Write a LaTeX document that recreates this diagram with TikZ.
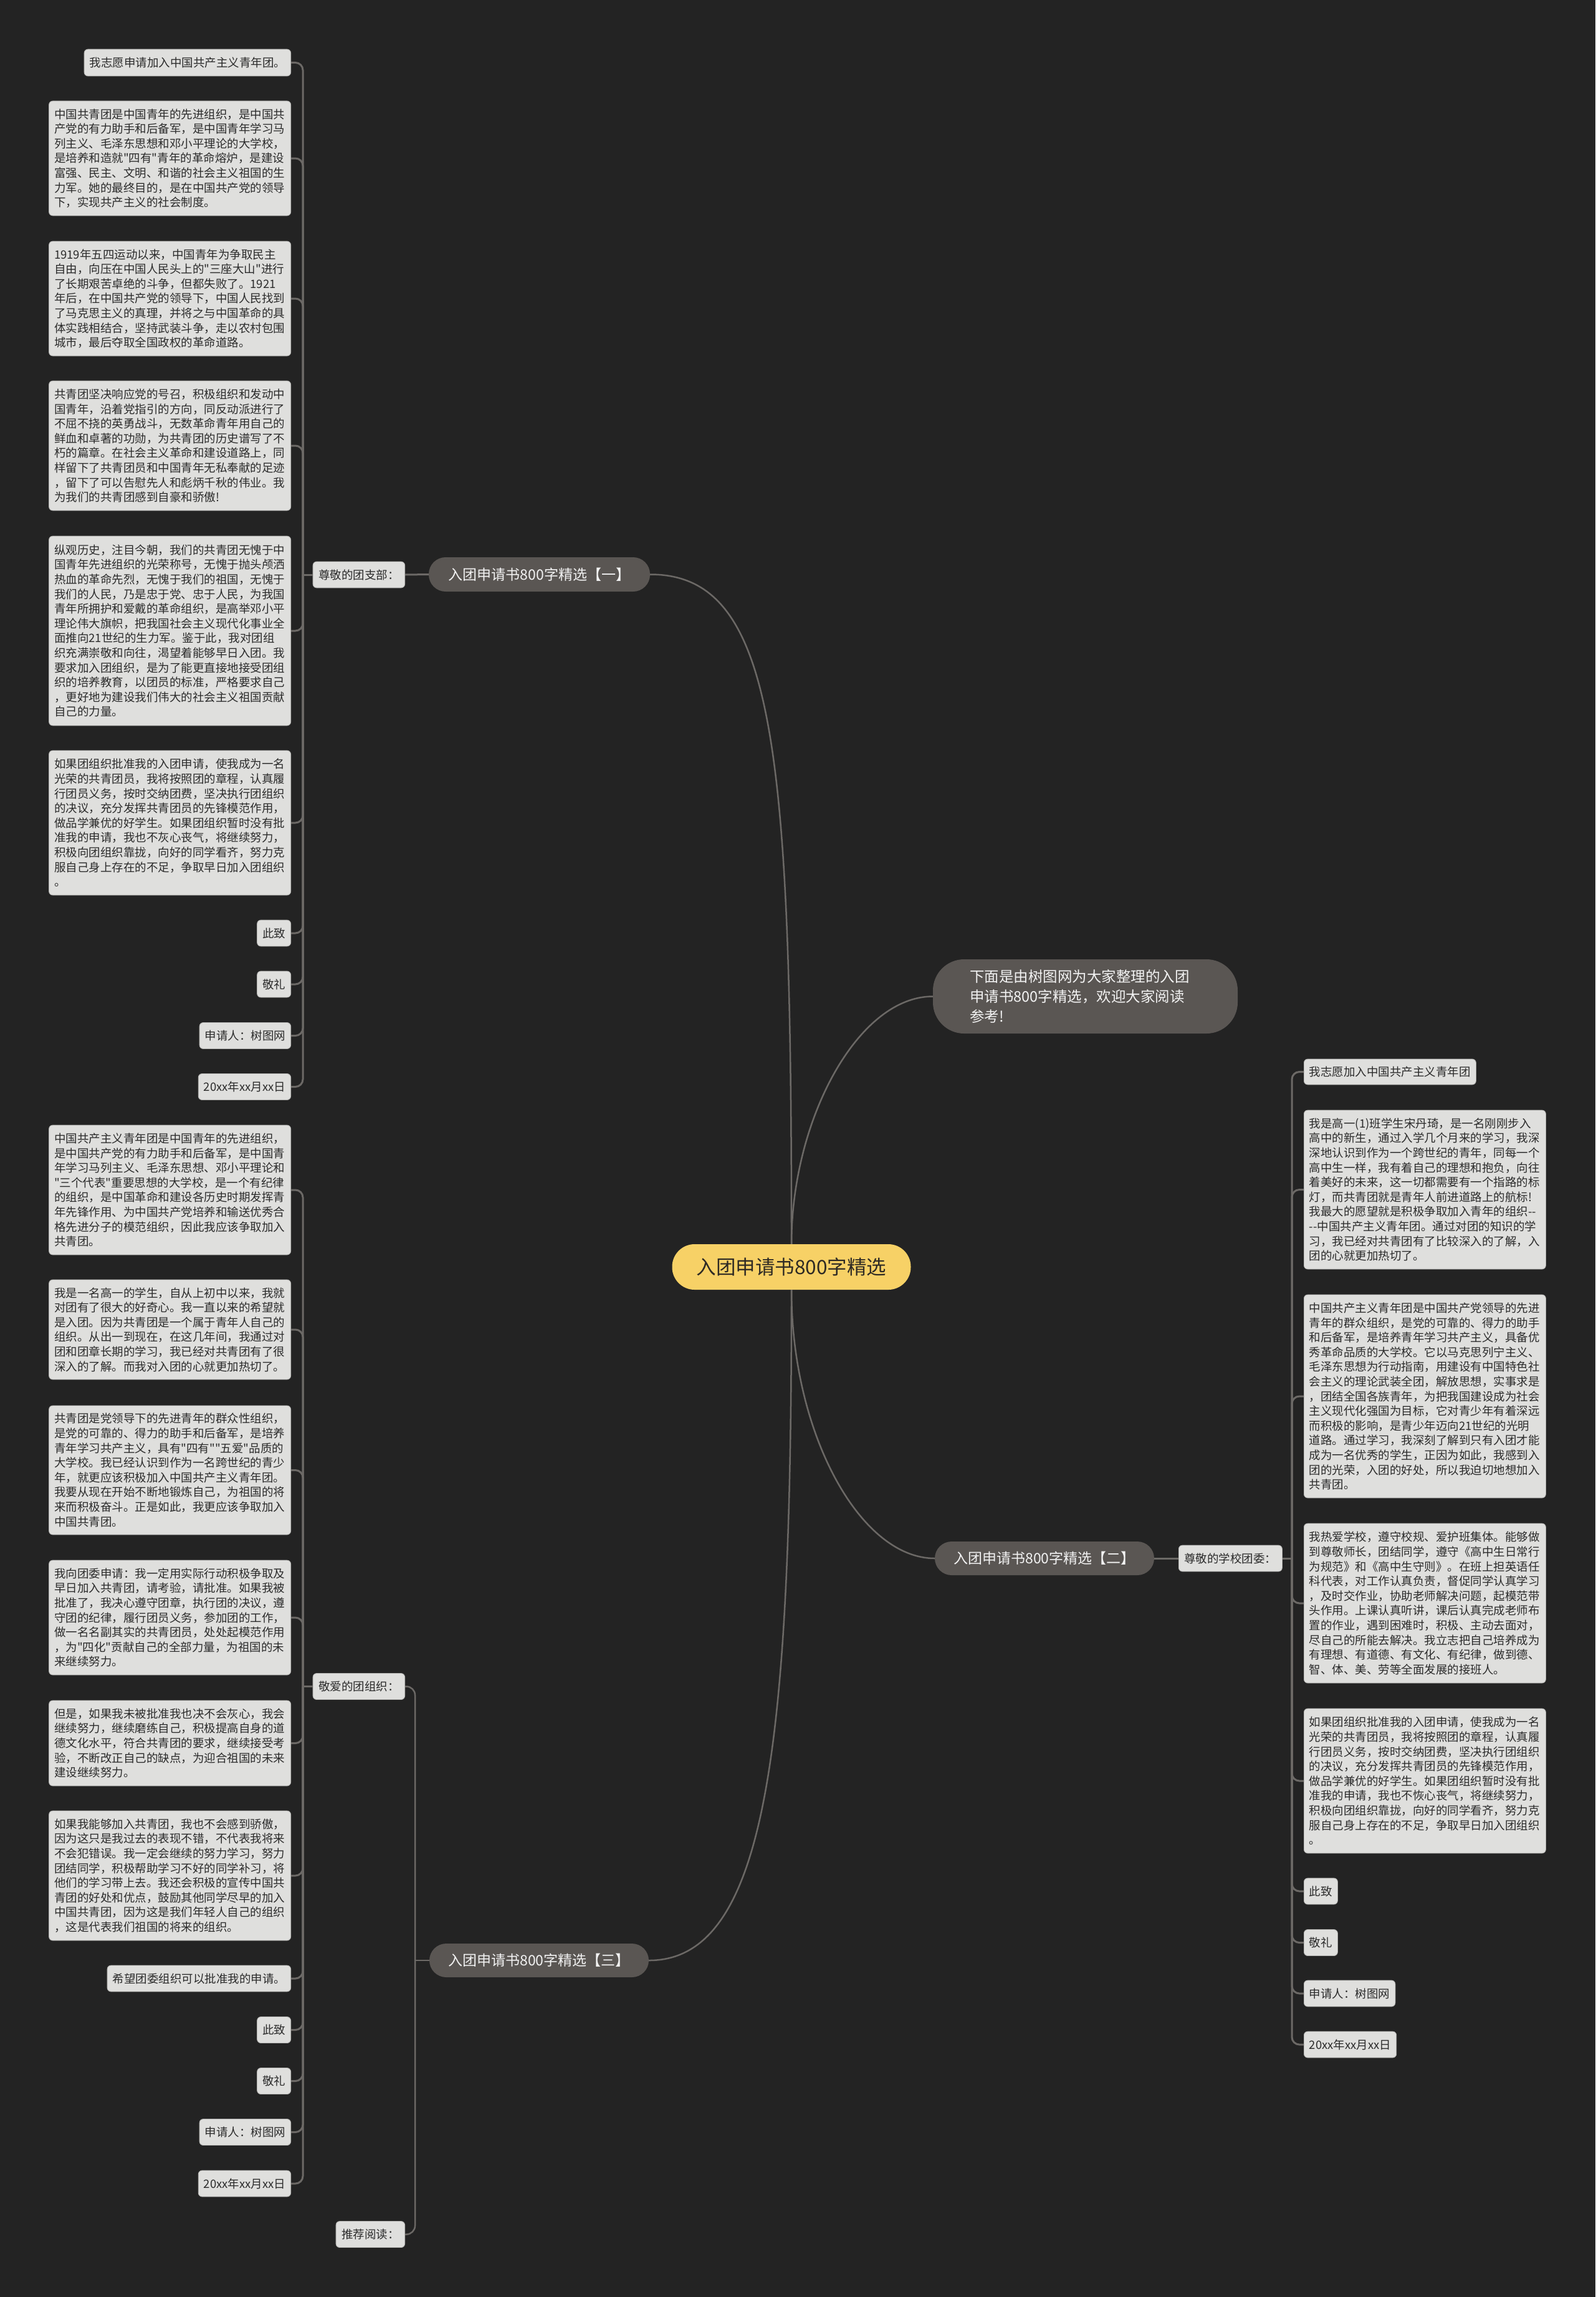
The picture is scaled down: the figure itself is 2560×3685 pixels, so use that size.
\documentclass[tikz,border=0pt]{standalone}
\usepackage{fontspec}
\newfontfamily\cjkf{Noto Sans CJK SC}
\definecolor{bgc}{HTML}{232323}
\definecolor{leafbg}{HTML}{DFDFDD}
\definecolor{leafbd}{HTML}{B4B4B2}
\definecolor{leaftx}{HTML}{2B2B2B}
\definecolor{brbg}{HTML}{5A5653}
\definecolor{brtx}{HTML}{F2F2F2}
\definecolor{rootbg}{HTML}{F7D166}
\definecolor{roottx}{HTML}{2E2A24}
\definecolor{lnc}{HTML}{6C6966}
\newcommand{\leaffnt}{\cjkf\fontsize{18.5pt}{23.6pt}\selectfont}
\begin{document}
\begin{tikzpicture}[x=1pt,y=-1pt,
  leaf/.style={draw=leafbd, line width=0.8pt, fill=leafbg, rounded corners=6pt, text=leaftx,
    font=\leaffnt, inner xsep=8.5pt, inner ysep=0pt, align=left, minimum height=42pt},
  bigleaf/.style={leaf, text width=371pt},
  grp/.style={leaf, inner xsep=9pt},
  branch/.style={fill=brbg, text=brtx, rounded corners=27pt, font=\cjkf\fontsize{23pt}{28pt}\selectfont,
    minimum width=355pt, minimum height=55pt, inner sep=0pt},
  conn/.style={draw=lnc, line width=3pt, rounded corners=12pt},
  mainconn/.style={draw=lnc, line width=2.5pt}]
\fill[bgc] (0,0) rectangle (2560,3685);
\useasboundingbox (0,0) rectangle (2560,3685);

% root and first level
\node[fill=rootbg, text=roottx, rounded corners=36pt, minimum width=383pt, minimum height=73pt,
  inner sep=0pt, font=\cjkf\fontsize{31.5pt}{36pt}\selectfont] (root) at (1270,2032.5) {入团申请书800字精选};
\node[fill=brbg, text=brtx, rounded corners=50pt, text width=371pt, inner xsep=59pt, inner ysep=0pt,
  minimum height=119pt, align=left, font=\cjkf\fontsize{23.5pt}{32pt}\selectfont] (intro) at (1741.5,1598.5)
  {下面是由树图网为大家整理的入团\\申请书800字精选，欢迎大家阅读\\参考!};
\node[branch] (b1) at (865.5,921.5) {入团申请书800字精选【一】};
\node[branch, minimum width=352pt, minimum height=54pt] (b2) at (1676,2500) {入团申请书800字精选【二】};
\node[branch, minimum width=352pt, minimum height=54pt] (b3) at (865,3145) {入团申请书800字精选【三】};

\draw[mainconn] (root.north) .. controls +(0,-800) and +(200,0) .. (b1.east);
\draw[mainconn] (root.north) .. controls +(0,-200) and +(-120,0) .. (intro.west);
\draw[mainconn] (root.south) .. controls +(0,230) and +(-120,0) .. (b2.west);
\draw[mainconn] (root.south) .. controls +(0,730) and +(190,0) .. (b3.east);

% group labels
\node[grp, anchor=east] (g1) at (650,922) {尊敬的团支部：};
\node[grp, anchor=west] (g2) at (1891,2500) {尊敬的学校团委：};
\node[grp, anchor=east] (g3) at (650,2705.5) {敬爱的团组织：};
\node[grp, anchor=east] (g4) at (650,3584.5) {推荐阅读：};
\draw[conn] (b1.west) -- (g1.east);
\draw[conn] (b2.east) -- (g2.west);
\coordinate (s3) at (666,3145);
\draw[mainconn] (b3.west) -- (s3);
\draw[mainconn, rounded corners=14pt] (s3) |- (g3.east);
\draw[mainconn, rounded corners=14pt] (s3) |- (g4.east);

% ---------- group 1 (left top) ----------
\node[leaf, anchor=east, minimum height=43pt] (a1) at (467,100.5) {我志愿申请加入中国共产主义青年团。};
\node[bigleaf, anchor=east, minimum height=184pt] (a2) at (467,254) {中国共青团是中国青年的先进组织，是中国共\\产党的有力助手和后备军，是中国青年学习马\\列主义、毛泽东思想和邓小平理论的大学校，\\是培养和造就"四有"青年的革命熔炉，是建设\\富强、民主、文明、和谐的社会主义祖国的生\\力军。她的最终目的，是在中国共产党的领导\\下，实现共产主义的社会制度。};
\node[bigleaf, anchor=east, minimum height=184pt] (a3) at (467,479) {1919年五四运动以来，中国青年为争取民主\\自由，向压在中国人民头上的"三座大山"进行\\了长期艰苦卓绝的斗争，但都失败了。1921\\年后，在中国共产党的领导下，中国人民找到\\了马克思主义的真理，并将之与中国革命的具\\体实践相结合，坚持武装斗争，走以农村包围\\城市，最后夺取全国政权的革命道路。};
\node[bigleaf, anchor=east, minimum height=208pt] (a4) at (467,715) {共青团坚决响应党的号召，积极组织和发动中\\国青年，沿着党指引的方向，同反动派进行了\\不屈不挠的英勇战斗，无数革命青年用自己的\\鲜血和卓著的功勋，为共青团的历史谱写了不\\朽的篇章。在社会主义革命和建设道路上，同\\样留下了共青团员和中国青年无私奉献的足迹\\，留下了可以告慰先人和彪炳千秋的伟业。我\\为我们的共青团感到自豪和骄傲!};
\node[bigleaf, anchor=east, minimum height=304pt] (a5) at (467,1012) {纵观历史，注目今朝，我们的共青团无愧于中\\国青年先进组织的光荣称号，无愧于抛头颅洒\\热血的革命先烈，无愧于我们的祖国，无愧于\\我们的人民，乃是忠于党、忠于人民，为我国\\青年所拥护和爱戴的革命组织，是高举邓小平\\理论伟大旗帜，把我国社会主义现代化事业全\\面推向21世纪的生力军。鉴于此，我对团组\\织充满崇敬和向往，渴望着能够早日入团。我\\要求加入团组织，是为了能更直接地接受团组\\织的培养教育，以团员的标准，严格要求自己\\，更好地为建设我们伟大的社会主义祖国贡献\\自己的力量。};
\node[bigleaf, anchor=east, minimum height=232pt] (a6) at (467,1320) {如果团组织批准我的入团申请，使我成为一名\\光荣的共青团员，我将按照团的章程，认真履\\行团员义务，按时交纳团费，坚决执行团组织\\的决议，充分发挥共青团员的先锋模范作用，\\做品学兼优的好学生。如果团组织暂时没有批\\准我的申请，我也不灰心丧气，将继续努力，\\积极向团组织靠拢，向好的同学看齐，努力克\\服自己身上存在的不足，争取早日加入团组织\\。};
\node[leaf, anchor=east] (a7) at (467,1497) {此致};
\node[leaf, anchor=east] (a8) at (467,1579) {敬礼};
\node[leaf, anchor=east] (a9) at (467,1661.5) {申请人：树图网};
\node[leaf, anchor=east] (a10) at (467,1743.5) {20xx年xx月xx日};
\coordinate (s1) at (486,922);
\draw[conn] (g1.west) -- (s1);
\foreach \n in {a1,a2,a3,a4,a5,a6,a7,a8,a9,a10}{\draw[conn] (s1) |- (\n.east);}

% ---------- group 2 (right) ----------
\node[leaf, anchor=west, minimum height=41pt] (r1) at (2092,1719.5) {我志愿加入中国共产主义青年团};
\node[bigleaf, anchor=west, minimum height=255pt] (r2) at (2092,1908.5) {我是高一(1)班学生宋丹琦，是一名刚刚步入\\高中的新生，通过入学几个月来的学习，我深\\深地认识到作为一个跨世纪的青年，同每一个\\高中生一样，我有着自己的理想和抱负，向往\\着美好的未来，这一切都需要有一个指路的标\\灯，而共青团就是青年人前进道路上的航标!\\我最大的愿望就是积极争取加入青年的组织--\\--中国共产主义青年团。通过对团的知识的学\\习，我已经对共青团有了比较深入的了解，入\\团的心就更加热切了。};
\node[bigleaf, anchor=west, minimum height=326pt] (r3) at (2092,2240) {中国共产主义青年团是中国共产党领导的先进\\青年的群众组织，是党的可靠的、得力的助手\\和后备军，是培养青年学习共产主义，具备优\\秀革命品质的大学校。它以马克思列宁主义、\\毛泽东思想为行动指南，用建设有中国特色社\\会主义的理论武装全团，解放思想，实事求是\\，团结全国各族青年，为把我国建设成为社会\\主义现代化强国为目标，它对青少年有着深远\\而积极的影响，是青少年迈向21世纪的光明\\道路。通过学习，我深刻了解到只有入团才能\\成为一名优秀的学生，正因为如此，我感到入\\团的光荣，入团的好处，所以我迫切地想加入\\共青团。};
\node[bigleaf, anchor=west, minimum height=256pt] (r4) at (2092,2572) {我热爱学校，遵守校规、爱护班集体。能够做\\到尊敬师长，团结同学，遵守《高中生日常行\\为规范》和《高中生守则》。在班上担英语任\\科代表，对工作认真负责，督促同学认真学习\\，及时交作业，协助老师解决问题，起模范带\\头作用。上课认真听讲，课后认真完成老师布\\置的作业，遇到困难时，积极、主动去面对，\\尽自己的所能去解决。我立志把自己培养成为\\有理想、有道德、有文化、有纪律，做到德、\\智、体、美、劳等全面发展的接班人。};
\node[bigleaf, anchor=west, minimum height=232pt] (r5) at (2092,2857) {如果团组织批准我的入团申请，使我成为一名\\光荣的共青团员，我将按照团的章程，认真履\\行团员义务，按时交纳团费，坚决执行团组织\\的决议，充分发挥共青团员的先锋模范作用，\\做品学兼优的好学生。如果团组织暂时没有批\\准我的申请，我也不恢心丧气，将继续努力，\\积极向团组织靠拢，向好的同学看齐，努力克\\服自己身上存在的不足，争取早日加入团组织\\。};
\node[leaf, anchor=west] (r6) at (2092,3034) {此致};
\node[leaf, anchor=west] (r7) at (2092,3116.5) {敬礼};
\node[leaf, anchor=west] (r8) at (2092,3198) {申请人：树图网};
\node[leaf, anchor=west] (r9) at (2092,3280) {20xx年xx月xx日};
\coordinate (s2) at (2073,2500);
\draw[conn] (g2.east) -- (s2);
\foreach \n in {r1,r2,r3,r4,r5,r6,r7,r8,r9}{\draw[conn] (s2) |- (\n.west);}

% ---------- group 3 (left bottom) ----------
\node[bigleaf, anchor=east, minimum height=208pt] (m1) at (467,1909) {中国共产主义青年团是中国青年的先进组织，\\是中国共产党的有力助手和后备军，是中国青\\年学习马列主义、毛泽东思想、邓小平理论和\\"三个代表"重要思想的大学校，是一个有纪律\\的组织，是中国革命和建设各历史时期发挥青\\年先锋作用、为中国共产党培养和输送优秀合\\格先进分子的模范组织，因此我应该争取加入\\共青团。};
\node[bigleaf, anchor=east, minimum height=160pt] (m2) at (467,2133) {我是一名高一的学生，自从上初中以来，我就\\对团有了很大的好奇心。我一直以来的希望就\\是入团。因为共青团是一个属于青年人自己的\\组织。从出一到现在，在这几年间，我通过对\\团和团章长期的学习，我已经对共青团有了很\\深入的了解。而我对入团的心就更加热切了。};
\node[bigleaf, anchor=east, minimum height=207pt] (m3) at (467,2358.5) {共青团是党领导下的先进青年的群众性组织，\\是党的可靠的、得力的助手和后备军，是培养\\青年学习共产主义，具有"四有""五爱"品质的\\大学校。我已经认识到作为一名跨世纪的青少\\年，就更应该积极加入中国共产主义青年团。\\我要从现在开始不断地锻炼自己，为祖国的将\\来而积极奋斗。正是如此，我更应该争取加入\\中国共青团。};
\node[bigleaf, anchor=east, minimum height=184pt] (m4) at (467,2595) {我向团委申请：我一定用实际行动积极争取及\\早日加入共青团，请考验，请批准。如果我被\\批准了，我决心遵守团章，执行团的决议，遵\\守团的纪律，履行团员义务，参加团的工作，\\做一名名副其实的共青团员，处处起模范作用\\，为"四化"贡献自己的全部力量，为祖国的未\\来继续努力。};
\node[bigleaf, anchor=east, minimum height=137pt] (m5) at (467,2796.5) {但是，如果我未被批准我也决不会灰心，我会\\继续努力，继续磨练自己，积极提高自身的道\\德文化水平，符合共青团的要求，继续接受考\\验，不断改正自己的缺点，为迎合祖国的未来\\建设继续努力。};
\node[bigleaf, anchor=east, minimum height=208pt] (m6) at (467,3009) {如果我能够加入共青团，我也不会感到骄傲，\\因为这只是我过去的表现不错，不代表我将来\\不会犯错误。我一定会继续的努力学习，努力\\团结同学，积极帮助学习不好的同学补习，将\\他们的学习带上去。我还会积极的宣传中国共\\青团的好处和优点，鼓励其他同学尽早的加入\\中国共青团，因为这是我们年轻人自己的组织\\，这是代表我们祖国的将来的组织。};
\node[leaf, anchor=east] (m7) at (467,3174) {希望团委组织可以批准我的申请。};
\node[leaf, anchor=east] (m8) at (467,3256.5) {此致};
\node[leaf, anchor=east] (m9) at (467,3338.5) {敬礼};
\node[leaf, anchor=east] (m10) at (467,3420.5) {申请人：树图网};
\node[leaf, anchor=east] (m11) at (467,3503) {20xx年xx月xx日};
\coordinate (s4) at (486,2705.5);
\draw[conn] (g3.west) -- (s4);
\foreach \n in {m1,m2,m3,m4,m5,m6,m7,m8,m9,m10,m11}{\draw[conn] (s4) |- (\n.east);}
\end{tikzpicture}
\end{document}
